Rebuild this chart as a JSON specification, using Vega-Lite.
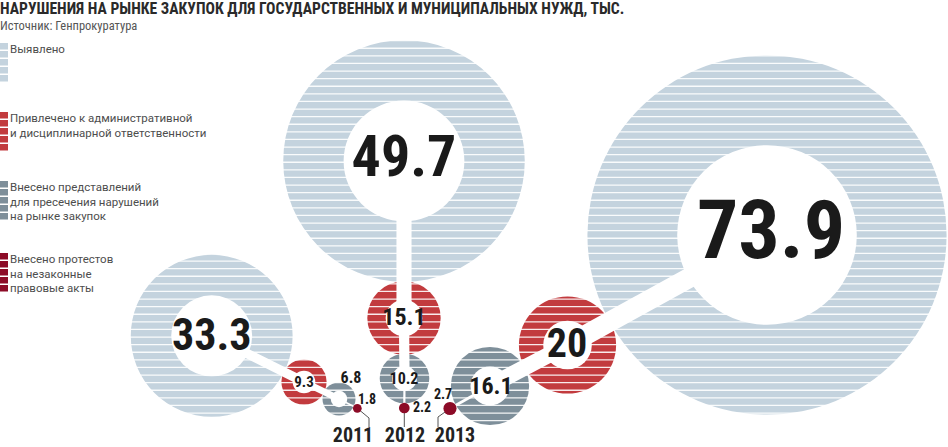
{
  "$schema": "https://vega.github.io/schema/vega-lite/v6.json",
  "width": 948,
  "height": 407,
  "autosize": {"type": "none"},
  "padding": {"left": 0, "top": 40, "right": 0, "bottom": 0},
  "background": "white",
  "title": {
    "text": "НАРУШЕНИЯ НА РЫНКЕ ЗАКУПОК ДЛЯ ГОСУДАРСТВЕННЫХ И МУНИЦИПАЛЬНЫХ НУЖД, ТЫС.",
    "subtitle": "Источник: Генпрокуратура",
    "anchor": "start",
    "frame": "group",
    "offset": 8,
    "font": "Roboto Condensed, Roboto",
    "fontSize": 15.6,
    "fontWeight": "bold",
    "color": "#2a2a2a",
    "subtitleFont": "Roboto Condensed, Roboto",
    "subtitleFontSize": 12.5,
    "subtitleColor": "#555555",
    "subtitlePadding": 2
  },
  "datasets": {
    "circles": [
      {"id": "11a", "year": 2011, "cat": "Выявлено", "value": 33.3, "cx": 211.7, "cy": 335.8, "lx": 211.7, "ly": 337},
      {"id": "11b", "year": 2011, "cat": "Привлечено к административной и дисциплинарной ответственности", "value": 9.3, "cx": 304, "cy": 382, "lx": 304, "ly": 381.5},
      {"id": "11c", "year": 2011, "cat": "Внесено представлений для пресечения нарушений на рынке закупок", "value": 6.8, "cx": 339, "cy": 399, "lx": 351, "ly": 378},
      {"id": "11d", "year": 2011, "cat": "Внесено протестов на незаконные правовые акты", "value": 1.8, "cx": 357.3, "cy": 408.3, "lx": 367, "ly": 400},
      {"id": "12a", "year": 2012, "cat": "Выявлено", "value": 49.7, "cx": 404, "cy": 161, "lx": 404, "ly": 159},
      {"id": "12b", "year": 2012, "cat": "Привлечено к административной и дисциплинарной ответственности", "value": 15.1, "cx": 404, "cy": 318, "lx": 404, "ly": 318},
      {"id": "12c", "year": 2012, "cat": "Внесено представлений для пресечения нарушений на рынке закупок", "value": 10.2, "cx": 404.5, "cy": 378.5, "lx": 404, "ly": 379},
      {"id": "12d", "year": 2012, "cat": "Внесено протестов на незаконные правовые акты", "value": 2.2, "cx": 404.3, "cy": 408, "lx": 422, "ly": 408},
      {"id": "13a", "year": 2013, "cat": "Выявлено", "value": 73.9, "cx": 767, "cy": 235, "lx": 771, "ly": 233},
      {"id": "13b", "year": 2013, "cat": "Привлечено к административной и дисциплинарной ответственности", "value": 20, "cx": 567.5, "cy": 345, "lx": 567, "ly": 345},
      {"id": "13c", "year": 2013, "cat": "Внесено представлений для пресечения нарушений на рынке закупок", "value": 16.1, "cx": 490, "cy": 386, "lx": 491, "ly": 387},
      {"id": "13d", "year": 2013, "cat": "Внесено протестов на незаконные правовые акты", "value": 2.7, "cx": 450, "cy": 408.5, "lx": 443, "ly": 395}
    ],
    "links": [
      {"from": "11a", "to": "11b"}, {"from": "11b", "to": "11c"}, {"from": "11c", "to": "11d"},
      {"from": "12a", "to": "12b"}, {"from": "12b", "to": "12c"}, {"from": "12c", "to": "12d"},
      {"from": "13a", "to": "13b"}, {"from": "13b", "to": "13c"}, {"from": "13c", "to": "13d"}
    ],
    "leaders": [
      {"year": 2011, "ord": 1, "x": 357.3, "y": 408.3}, {"year": 2011, "ord": 2, "x": 369, "y": 418}, {"year": 2011, "ord": 3, "x": 369, "y": 427},
      {"year": 2012, "ord": 1, "x": 404.3, "y": 408}, {"year": 2012, "ord": 2, "x": 404.3, "y": 427},
      {"year": 2013, "ord": 1, "x": 450, "y": 408.5}, {"year": 2013, "ord": 2, "x": 438, "y": 417}, {"year": 2013, "ord": 3, "x": 438, "y": 427}
    ],
    "years": [
      {"year": "2011", "x": 353, "y": 435.5},
      {"year": "2012", "x": 405, "y": 435.5},
      {"year": "2013", "x": 455, "y": 435.5}
    ]
  },
  "layer": [
    {
      "data": {"name": "circles"},
      "transform": [{"filter": "datum.cat !== 'Внесено протестов на незаконные правовые акты'"}],
      "mark": {"type": "circle", "opacity": 1, "strokeWidth": 0},
      "encoding": {
        "x": {"field": "cx", "type": "quantitative", "scale": {"domain": [0, 948], "nice": false, "zero": false}, "axis": null},
        "y": {"field": "cy", "type": "quantitative", "scale": {"domain": [40, 447], "nice": false, "zero": false, "reverse": true}, "axis": null},
        "size": {"field": "value", "type": "quantitative", "scale": {"type": "pow", "exponent": 2, "domain": [0, 80], "range": [0, 151165]}, "legend": null},
        "color": {
          "field": "cat", "type": "nominal",
          "scale": {
            "domain": ["Выявлено", "Привлечено к административной и дисциплинарной ответственности", "Внесено представлений для пресечения нарушений на рынке закупок", "Внесено протестов на незаконные правовые акты"],
            "range": ["#c4d3de", "#c23b3e", "#7e8f9a", "#8c0b27"]
          },
          "legend": {
            "title": null,
            "labelExpr": "datum.label == 'Выявлено' ? 'Выявлено' : datum.label == 'Привлечено к административной и дисциплинарной ответственности' ? ['Привлечено к административной', 'и дисциплинарной ответственности'] : datum.label == 'Внесено представлений для пресечения нарушений на рынке закупок' ? ['Внесено представлений', 'для пресечения нарушений', 'на рынке закупок'] : ['Внесено протестов', 'на незаконные', 'правовые акты']",
            "encode": {"labels": {"update": {"dy": {"value": -19}, "lineHeight": {"value": 14.5}}}}
          }
        }
      }
    },
    {
      "data": {"values": [{"s": 1}]},
      "mark": {"type": "rule", "color": "white", "strokeWidth": 948, "strokeDash": [1.3, 6.3], "strokeCap": "butt", "opacity": 0.9, "clip": true},
      "encoding": {
        "x": {"datum": 474, "type": "quantitative"},
        "y": {"datum": 40, "type": "quantitative"},
        "y2": {"datum": 447}
      }
    },
    {
      "data": {"name": "links"},
      "transform": [
        {"lookup": "from", "from": {"data": {"name": "circles"}, "key": "id", "fields": ["cx", "cy"]}, "as": ["ax", "ay"]},
        {"lookup": "to", "from": {"data": {"name": "circles"}, "key": "id", "fields": ["cx", "cy", "value"]}, "as": ["bx", "by", "tv"]}
      ],
      "mark": {"type": "rule", "color": "white", "strokeCap": "butt"},
      "encoding": {
        "x": {"field": "ax", "type": "quantitative"},
        "y": {"field": "ay", "type": "quantitative"},
        "x2": {"field": "bx"},
        "y2": {"field": "by"},
        "strokeWidth": {"field": "tv", "type": "quantitative", "scale": {"domain": [0, 20], "range": [0, 20]}, "legend": null}
      }
    },
    {
      "data": {"name": "circles"},
      "transform": [{"filter": "datum.cat !== 'Внесено протестов на незаконные правовые акты'"}],
      "mark": {"type": "circle", "color": "white", "opacity": 1, "strokeWidth": 0},
      "encoding": {
        "x": {"field": "cx", "type": "quantitative"},
        "y": {"field": "cy", "type": "quantitative"},
        "size": {"field": "value", "type": "quantitative", "scale": {"type": "pow", "exponent": 2, "domain": [0, 80], "range": [0, 37791]}, "legend": null}
      }
    },
    {
      "data": {"name": "leaders"},
      "mark": {"type": "line", "color": "#555555", "strokeWidth": 1},
      "encoding": {
        "x": {"field": "x", "type": "quantitative"},
        "y": {"field": "y", "type": "quantitative"},
        "detail": {"field": "year", "type": "nominal"},
        "order": {"field": "ord", "type": "quantitative"}
      }
    },
    {
      "data": {"name": "circles"},
      "transform": [{"filter": "datum.cat === 'Внесено протестов на незаконные правовые акты'"}],
      "mark": {"type": "circle", "opacity": 1, "strokeWidth": 0},
      "encoding": {
        "x": {"field": "cx", "type": "quantitative"},
        "y": {"field": "cy", "type": "quantitative"},
        "size": {"field": "value", "type": "quantitative", "scale": {"type": "pow", "exponent": 2, "domain": [0, 80], "range": [0, 151165]}, "legend": null},
        "color": {"field": "cat", "type": "nominal"}
      }
    },
    {
      "data": {"name": "circles"},
      "mark": {"type": "text", "font": "Roboto Condensed, Roboto", "fontWeight": "bold", "color": "#1a1a1a", "align": "center", "baseline": "middle"},
      "encoding": {
        "x": {"field": "lx", "type": "quantitative"},
        "y": {"field": "ly", "type": "quantitative"},
        "text": {"field": "value", "type": "nominal"},
        "size": {"field": "value", "type": "quantitative", "scale": {"type": "linear", "domain": [1.8, 2.7, 6.8, 9.3, 10.2, 15.1, 16.1, 20, 33.3, 49.7, 73.9], "range": [14, 14, 16, 15, 16, 24, 24, 40, 44, 58, 82]}, "legend": null}
      }
    },
    {
      "data": {"name": "years"},
      "mark": {"type": "text", "font": "Roboto Condensed, Roboto", "fontWeight": "bold", "fontSize": 20, "color": "#222222", "align": "center", "baseline": "middle"},
      "encoding": {
        "x": {"field": "x", "type": "quantitative"},
        "y": {"field": "y", "type": "quantitative"},
        "text": {"field": "year", "type": "nominal"}
      }
    }
  ],
  "resolve": {"scale": {"size": "independent", "strokeWidth": "independent"}},
  "config": {
    "view": {"stroke": null},
    "legend": {
      "orient": "none",
      "legendX": 0,
      "legendY": 3,
      "padding": 0,
      "symbolType": "M-1,-1H-0.6V-0.67H-1Z M-1,-0.6H-0.6V-0.27H-1Z M-1,-0.2H-0.6V0.13H-1Z M-1,0.2H-0.6V0.53H-1Z M-1,0.6H-0.6V0.93H-1Z",
      "symbolSize": 1600,
      "symbolStrokeWidth": 0,
      "symbolOpacity": 1,
      "labelFont": "Roboto",
      "labelFontSize": 11.5,
      "labelColor": "#4d4d4d",
      "labelBaseline": "top",
      "labelOffset": -30,
      "labelLimit": 400,
      "rowPadding": 30
    }
  }
}
